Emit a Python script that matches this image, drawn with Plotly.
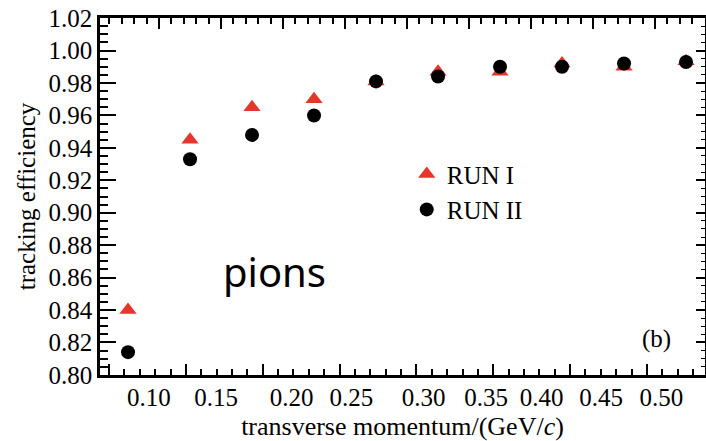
import plotly.graph_objects as go

# ---- data ----
pt_centers = [0.075, 0.125, 0.175, 0.225, 0.275, 0.325, 0.375, 0.425, 0.475, 0.525]
run1_eff = [0.840, 0.945, 0.965, 0.970, 0.981, 0.987, 0.987, 0.992, 0.990, 0.9935]
run2_eff = [0.814, 0.933, 0.948, 0.960, 0.981, 0.984, 0.990, 0.990, 0.992, 0.993]

x_tick_text = ["0.10", "0.15", "0.20", "0.25", "0.30", "0.35", "0.40", "0.45", "0.50"]
x_tick_pos = [0.0919, 0.1460, 0.2069, 0.2552, 0.3133, 0.3637, 0.4085, 0.4565, 0.5052]
y_ticks = [0.80, 0.82, 0.84, 0.86, 0.88, 0.90, 0.92, 0.94, 0.96, 0.98, 1.00, 1.02]

x_range = [0.0524, 0.5403]
y_range = [0.7999, 1.0201]

SERIF = "Liberation Serif"
RED = "#e8342a"

fig = go.Figure()
# empty helper traces so the extra tick axes get drawn
for xa, ya in [("x2", "y"), ("x3", "y"), ("x", "y2")]:
    fig.add_trace(go.Scatter(x=[None], y=[None], xaxis=xa, yaxis=ya,
                             mode="markers", showlegend=False, hoverinfo="skip"))
fig.add_trace(go.Scatter(
    x=pt_centers, y=run1_eff, mode="markers", name="RUN I",
    marker=dict(symbol="triangle-up", size=15, color=RED, line=dict(width=0)),
))
fig.add_trace(go.Scatter(
    x=pt_centers, y=run2_eff, mode="markers", name="RUN II",
    marker=dict(symbol="circle", size=14, color="black", line=dict(width=0)),
))

tickfont = dict(family=SERIF, size=25, color="black")

fig.update_layout(
    width=706, height=441,
    margin=dict(l=100, r=1, t=18, b=66),
    paper_bgcolor="white", plot_bgcolor="white",
    font=dict(family=SERIF, size=25, color="black"),
    xaxis=dict(
        range=x_range, showgrid=False, zeroline=False,
        tickmode="array", tickvals=x_tick_pos, ticktext=x_tick_text,
        ticks="", tickfont=tickfont, ticklabelstandoff=-2,
        showline=True, linecolor="black", linewidth=2.5,
        title=dict(text="transverse momentum/(GeV/<i>c</i>)", font=dict(family=SERIF, size=26), standoff=9),
    ),
    xaxis2=dict(
        range=x_range, overlaying="x", side="bottom", anchor="y",
        showgrid=False, zeroline=False, showticklabels=False, showline=False,
        tickmode="linear", tick0=0.0597, dtick=0.06197,
        ticks="inside", ticklen=11, tickwidth=2, tickcolor="black",
        minor=dict(ticks="inside", ticklen=6, dtick=0.012394, tick0=0.0597, tickwidth=1.5, tickcolor="black"),
    ),
    xaxis3=dict(
        range=x_range, overlaying="x", side="top", anchor="y",
        showgrid=False, zeroline=False, showticklabels=False,
        showline=True, linecolor="black", linewidth=2.5,
        tickmode="linear", tick0=0.0, dtick=0.05,
        ticks="inside", ticklen=11, tickwidth=2, tickcolor="black",
        minor=dict(ticks="inside", ticklen=6, dtick=0.01, tickwidth=1.5, tickcolor="black"),
    ),
    yaxis=dict(
        range=y_range, showgrid=False, zeroline=False,
        tickmode="array", tickvals=y_ticks, ticktext=[f"{v:.2f}" for v in y_ticks],
        ticks="inside", ticklen=16, tickwidth=2, tickcolor="black",
        minor=dict(ticks="inside", ticklen=8, dtick=0.005, tick0=0.8, tickwidth=1.5, tickcolor="black"),
        tickfont=tickfont,
        showline=True, linecolor="black", linewidth=2.5,
        title=dict(text="tracking efficiency", font=dict(family=SERIF, size=25), standoff=6),
    ),
    yaxis2=dict(
        range=y_range, overlaying="y", side="right", anchor="x",
        showgrid=False, zeroline=False, showticklabels=False,
        showline=True, linecolor="black", linewidth=2.5,
        tickmode="linear", tick0=0.8, dtick=0.02,
        ticks="inside", ticklen=9, tickwidth=2, tickcolor="black",
        minor=dict(ticks="inside", ticklen=4, dtick=0.005, tickwidth=1.2, tickcolor="black"),
    ),
    legend=dict(
        x=0.507, y=0.627, xanchor="left", yanchor="top",
        bgcolor="rgba(0,0,0,0)", borderwidth=0,
        font=dict(family=SERIF, size=25, color="black"),
    ),
    annotations=[
        dict(text="pions", xref="paper", yref="paper", x=0.289, y=0.29,
             xanchor="center", yanchor="middle", showarrow=False,
             font=dict(family="Noto Sans", size=40, color="black")),
        dict(text="(b)", xref="paper", yref="paper", x=0.92, y=0.10,
             xanchor="center", yanchor="middle", showarrow=False,
             font=dict(family=SERIF, size=25, color="black")),
    ],
)

fig.write_html("out.html")
